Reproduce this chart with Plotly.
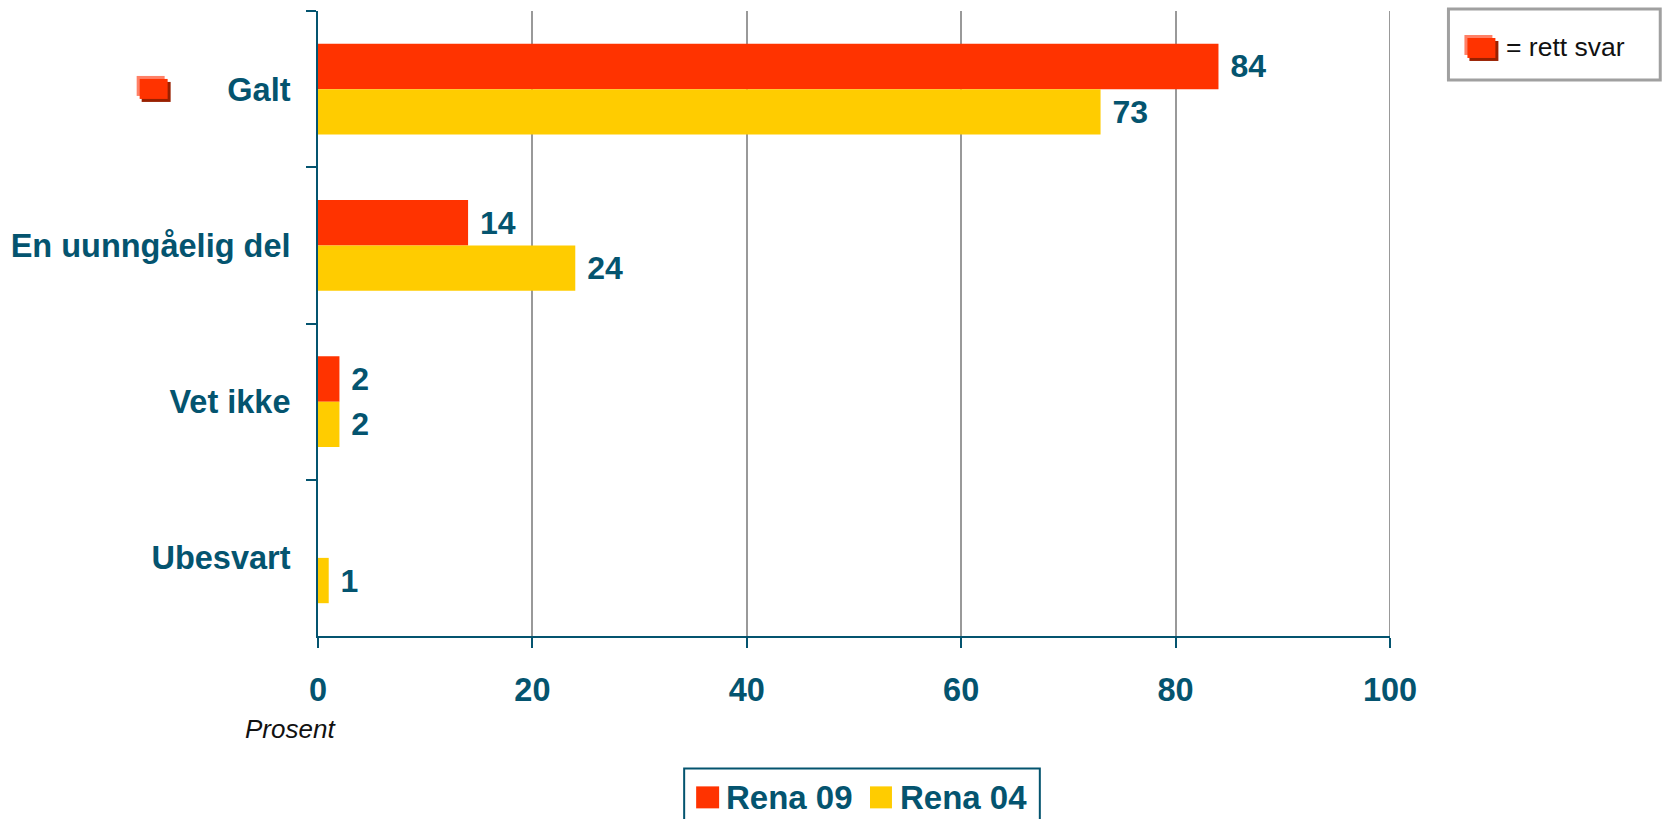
import plotly.graph_objects as go

categories = ["Galt", "En uunngåelig del", "Vet ikke", "Ubesvart"]
rena_09 = [84, 14, 2, None]
rena_04 = [73, 24, 2, 1]
x_ticks = [0, 20, 40, 60, 80, 100]

W, H = 1665, 819
L, R, T, B = 317.5, 1390.5, 11, 636.5
TEAL = "#04546F"
RED = "#FF3300"
YELLOW = "#FFCC00"
GRID = "#999999"
FONT = "Liberation Sans, Arial, sans-serif"


def px(x):
    return (x - L) / (R - L)


def py(y):
    return (B - y) / (B - T)


def rect(x0, y0, x1, y1, fill=None, line=None, lw=0):
    return dict(type="rect", xref="paper", yref="paper", layer="above",
                x0=px(x0), x1=px(x1), y0=py(y0), y1=py(y1),
                fillcolor=fill or "rgba(0,0,0,0)",
                line=dict(color=line or "rgba(0,0,0,0)", width=lw))


def icon(x, y):
    return [
        rect(x, y, x + 28, y + 20, "#FF8066"),
        rect(x + 5, y + 6, x + 34, y + 26, "#992000"),
        rect(x + 3, y + 3, x + 31, y + 23, RED),
    ]


def label(x, y, text, size, color, bold=False, italic=False):
    if bold:
        text = f"<b>{text}</b>"
    if italic:
        text = f"<i>{text}</i>"
    return dict(xref="paper", yref="paper", x=px(x), y=py(y), text=text,
                showarrow=False, xanchor="left", yanchor="middle",
                borderpad=0, font=dict(family=FONT, size=size, color=color))


fig = go.Figure()
for name, vals, col in [("Rena 09", rena_09, RED), ("Rena 04", rena_04, YELLOW)]:
    fig.add_bar(
        name=name, y=categories, x=vals, orientation="h",
        marker=dict(color=col, line=dict(width=0)),
        text=[None if v is None else f"<b>\u00a0{v}</b>" for v in vals],
        textposition="outside", cliponaxis=False,
        textfont=dict(family=FONT, size=32, color=TEAL),
    )

shapes = [
    dict(type="line", xref="x", yref="paper", layer="below",
         x0=x_ticks[-1], x1=x_ticks[-1], y0=0, y1=1,
         line=dict(color=GRID, width=2)),
] + icon(136, 76) + icon(1465, 35) + [
    rect(1449, 9, 1661, 80, None, "#A0A0A0", 3),
    rect(684, 769, 1040, 835, None, TEAL, 2),
    rect(696, 787, 719, 809, RED),
    rect(870, 787, 892, 809, YELLOW),
]
annotations = [
    label(1506, 47, "= rett svar", 26.5, "#111111"),
    label(243, 730, "Prosent", 26, "#111111", italic=True),
    label(725, 798, "Rena 09", 33, TEAL, bold=True),
    label(899, 798, "Rena 04", 33, TEAL, bold=True),
]

fig.update_layout(
    width=W, height=H, autosize=False,
    margin=dict(l=L, r=W - R, t=T, b=H - B, pad=0),
    paper_bgcolor="white", plot_bgcolor="white",
    barmode="group", bargap=0.42, bargroupgap=0,
    showlegend=False,
    shapes=shapes, annotations=annotations,
    font=dict(family=FONT, color=TEAL),
)
fig.update_xaxes(
    range=[0, 100], tickvals=x_ticks, showgrid=True, gridcolor=GRID, gridwidth=2,
    zeroline=False, showline=True, linecolor=TEAL, linewidth=2,
    ticks="outside", ticklen=10, tickwidth=2, tickcolor=TEAL,
    tickfont=dict(family=FONT, size=32.5, color=TEAL, weight="bold"),
    ticklabelstandoff=14,
)
fig.update_yaxes(
    type="category", autorange="reversed", categoryorder="array", categoryarray=categories,
    tickson="boundaries", showgrid=False, zeroline=False,
    showline=True, linecolor=TEAL, linewidth=2,
    ticks="outside", ticklen=10, tickwidth=2, tickcolor=TEAL,
    tickfont=dict(family=FONT, size=32.5, color=TEAL, weight="bold"),
    ticklabelstandoff=19,
)

fig.write_html(
    "out.html",
    config=dict(displayModeBar=False),
    post_script="document.body.style.margin='0';document.body.style.overflow='hidden';",
)
